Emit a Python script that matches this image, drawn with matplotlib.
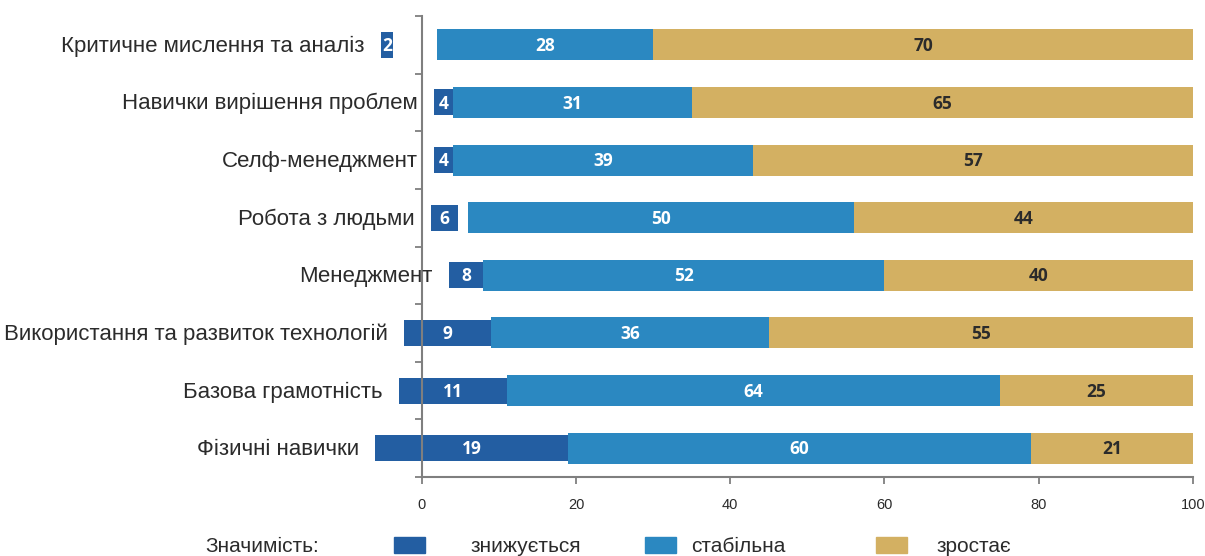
import matplotlib
matplotlib.use("Agg")
import matplotlib.pyplot as plt
from matplotlib.patches import Rectangle

# ---- data ----
categories = [
    "Критичне мислення та аналіз",
    "Навички вирішення проблем",
    "Селф-менеджмент",
    "Робота з людьми",
    "Менеджмент",
    "Використання та развиток технологій",
    "Базова грамотність",
    "Фізичні навички",
]
decreasing = [2, 4, 4, 6, 8, 9, 11, 19]
stable = [28, 31, 39, 50, 52, 36, 64, 60]
increasing = [70, 65, 57, 44, 40, 55, 25, 21]
xticks = [0, 20, 40, 60, 80, 100]
legend_title = "Значимість:"
series_names = ["знижується", "стабільна", "зростає"]

# ---- layout of the (oddly offset) decline bars in the source picture ----
decline_left = [-5.3, 1.6, 1.6, 1.2, 3.5, -2.3, -2.95, -6.05]
decline_right = [-3.75, 4.0, 4.0, 4.65, 8.0, 9.0, 11.0, 19.0]

c_dec = "#235EA2"
c_stab = "#2B88C1"
c_inc = "#D3B062"
txt = "#2b2b2b"

fig = plt.figure(figsize=(12.05, 5.56), dpi=100)
ax = fig.add_axes([421.7 / 1205, 1 - 477 / 556, (1193 - 421.7) / 1205, (477 - 16) / 556])

y = list(range(len(categories)))
h_big = 0.54
h_small = 0.45
numfont = dict(fontsize=12.5, fontweight="bold", family="Open Sans")

for i in y:
    l, r = decline_left[i], decline_right[i]
    ax.barh(i, r - l, left=l, height=h_small, color=c_dec, clip_on=False, zorder=2)
    ax.text((l + r) / 2, i + 0.02, str(decreasing[i]), ha="center", va="center",
            color="white", zorder=4, **numfont)
    ax.barh(i, stable[i], left=decreasing[i], height=h_big, color=c_stab, zorder=3)
    ax.text(decreasing[i] + stable[i] / 2, i + 0.02, str(stable[i]), ha="center", va="center",
            color="white", zorder=4, **numfont)
    ax.barh(i, increasing[i], left=decreasing[i] + stable[i], height=h_big, color=c_inc, zorder=3)
    ax.text(decreasing[i] + stable[i] + increasing[i] / 2, i + 0.02, str(increasing[i]),
            ha="center", va="center", color=txt, zorder=4, **numfont)
    ax.annotate(categories[i], xy=(l, i), xytext=(-11.5, -1), textcoords="offset points",
                ha="right", va="center", fontsize=16, color=txt, family="Liberation Sans",
                annotation_clip=False)

ax.set_xlim(0, 100)
ax.set_ylim(len(categories) - 0.5, -0.5)
ax.set_xticks(xticks)
ax.set_xticklabels([str(t) for t in xticks], family="Liberation Sans", fontsize=10.5, color=txt)
ax.set_yticks([])
ax.set_yticks([k - 0.5 for k in range(len(categories) + 1)], minor=True)
ax.tick_params(axis="y", which="minor", length=5, width=1.3, color="#7f7f7f", left=True)
ax.tick_params(axis="x", length=5, width=1.3, color="#7f7f7f", pad=10, direction="out")
for s in ["top", "right"]:
    ax.spines[s].set_visible(False)
for s in ["left", "bottom"]:
    ax.spines[s].set_color("#7f7f7f")
    ax.spines[s].set_linewidth(1.5)

# ---- legend ----
fig.text(205 / 1205, 1 - 546 / 556, legend_title, ha="left", va="center",
         fontsize=15, color=txt, family="Liberation Sans")
sq_x = [394, 645, 876]
tx_x = [471, 691, 937]
for c, sx, tx, name in zip([c_dec, c_stab, c_inc], sq_x, tx_x, series_names):
    fig.patches.append(Rectangle((sx / 1205, 1 - 553 / 556), 31 / 1205, 16 / 556,
                                 transform=fig.transFigure, color=c))
    fig.text(tx / 1205, 1 - 546 / 556, name, ha="left", va="center",
             fontsize=15, color=txt, family="Liberation Sans")

fig.savefig("out.png", dpi=100)
